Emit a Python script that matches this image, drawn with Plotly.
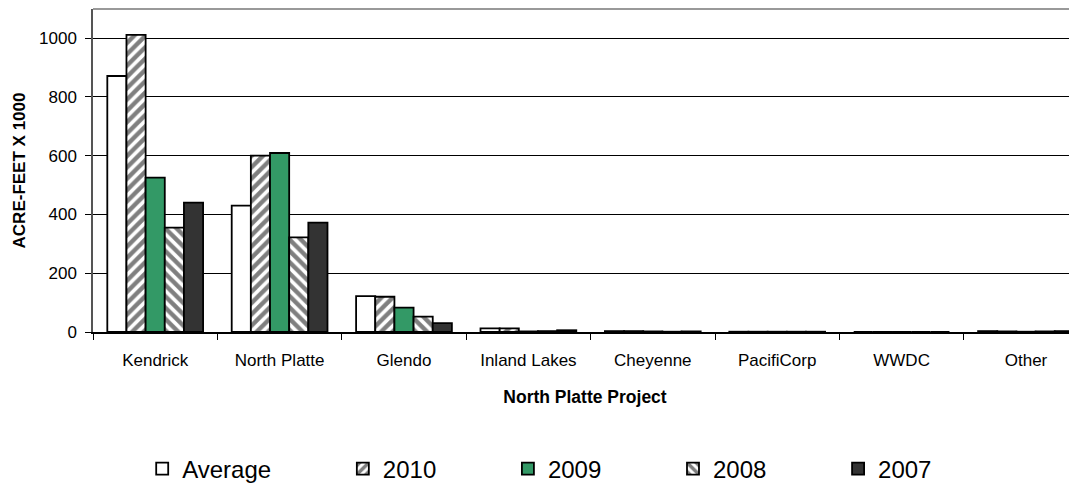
import plotly.graph_objects as go

categories = ["Kendrick", "North Platte", "Glendo", "Inland Lakes", "Cheyenne", "PacifiCorp", "WWDC", "Other"]
series_names = ["Average", "2010", "2009", "2008", "2007"]
avg_vals = [871, 430, 122, 12, 3, 1, 0, 3]
v2010 = [1011, 600, 120, 12, 3, 1, 0, 2]
v2009 = [525, 609, 83, 2, 2, 1, 0, 1]
v2008 = [355, 322, 52, 3, 1, 1, 0, 2]
v2007 = [440, 372, 30, 6, 2, 1, 0, 3]
y_ticks = [0, 200, 400, 600, 800, 1000]

values = [avg_vals, v2010, v2009, v2008, v2007]
styles = [
    dict(color="white"),
    dict(color="white", pattern=dict(shape="/", fgcolor="black", bgcolor="white", size=8, solidity=0.55)),
    dict(color="#339966"),
    dict(color="white", pattern=dict(shape="\\", fgcolor="black", bgcolor="white", size=8, solidity=0.55)),
    dict(color="#333333"),
]

pad = "\u00a0" * 10
fig = go.Figure()
for name, vals, st in zip(series_names, values, styles):
    fig.add_trace(go.Bar(
        name=name + pad, x=categories, y=vals,
        marker=dict(line=dict(color="black", width=1.8), **st),
    ))

font = "Liberation Sans, Arial, sans-serif"
fig.update_layout(
    width=1069, height=475,
    margin=dict(l=85, r=0, t=1, b=151, autoexpand=False),
    paper_bgcolor="white", plot_bgcolor="white",
    barmode="group", bargap=0.23, bargroupgap=0,
    font=dict(family=font, color="black", size=17),
    legend=dict(orientation="h", x=0.05, xanchor="left", y=-0.424, yanchor="middle",
                font=dict(size=24, family=font), itemwidth=30,
                traceorder="normal"),
    xaxis=dict(range=[-0.5, 7.41], tickson="boundaries", ticks="outside", ticklen=6,
               tickcolor="black", showline=True, linecolor="black", linewidth=1.5,
               ticklabelstandoff=12, showgrid=False, automargin=False,
               title=dict(text="<b>North Platte Project</b>", font=dict(size=17.5), standoff=22)),
    yaxis=dict(range=[0, 1099], tickvals=y_ticks, ticks="outside", ticklen=6,
               tickcolor="black", showline=True, linecolor="#555555", linewidth=1.5,
               ticklabelstandoff=5, automargin=False,
               showgrid=True, gridcolor="black", gridwidth=1, zeroline=False,
               title=dict(text="<b>ACRE-FEET X 1000</b>", font=dict(size=17), standoff=9)),
    shapes=[dict(type="line", xref="paper", yref="paper", x0=0, x1=1, y0=1, y1=1,
                 line=dict(color="#999999", width=2))],
)

fig.write_html("out.html")
